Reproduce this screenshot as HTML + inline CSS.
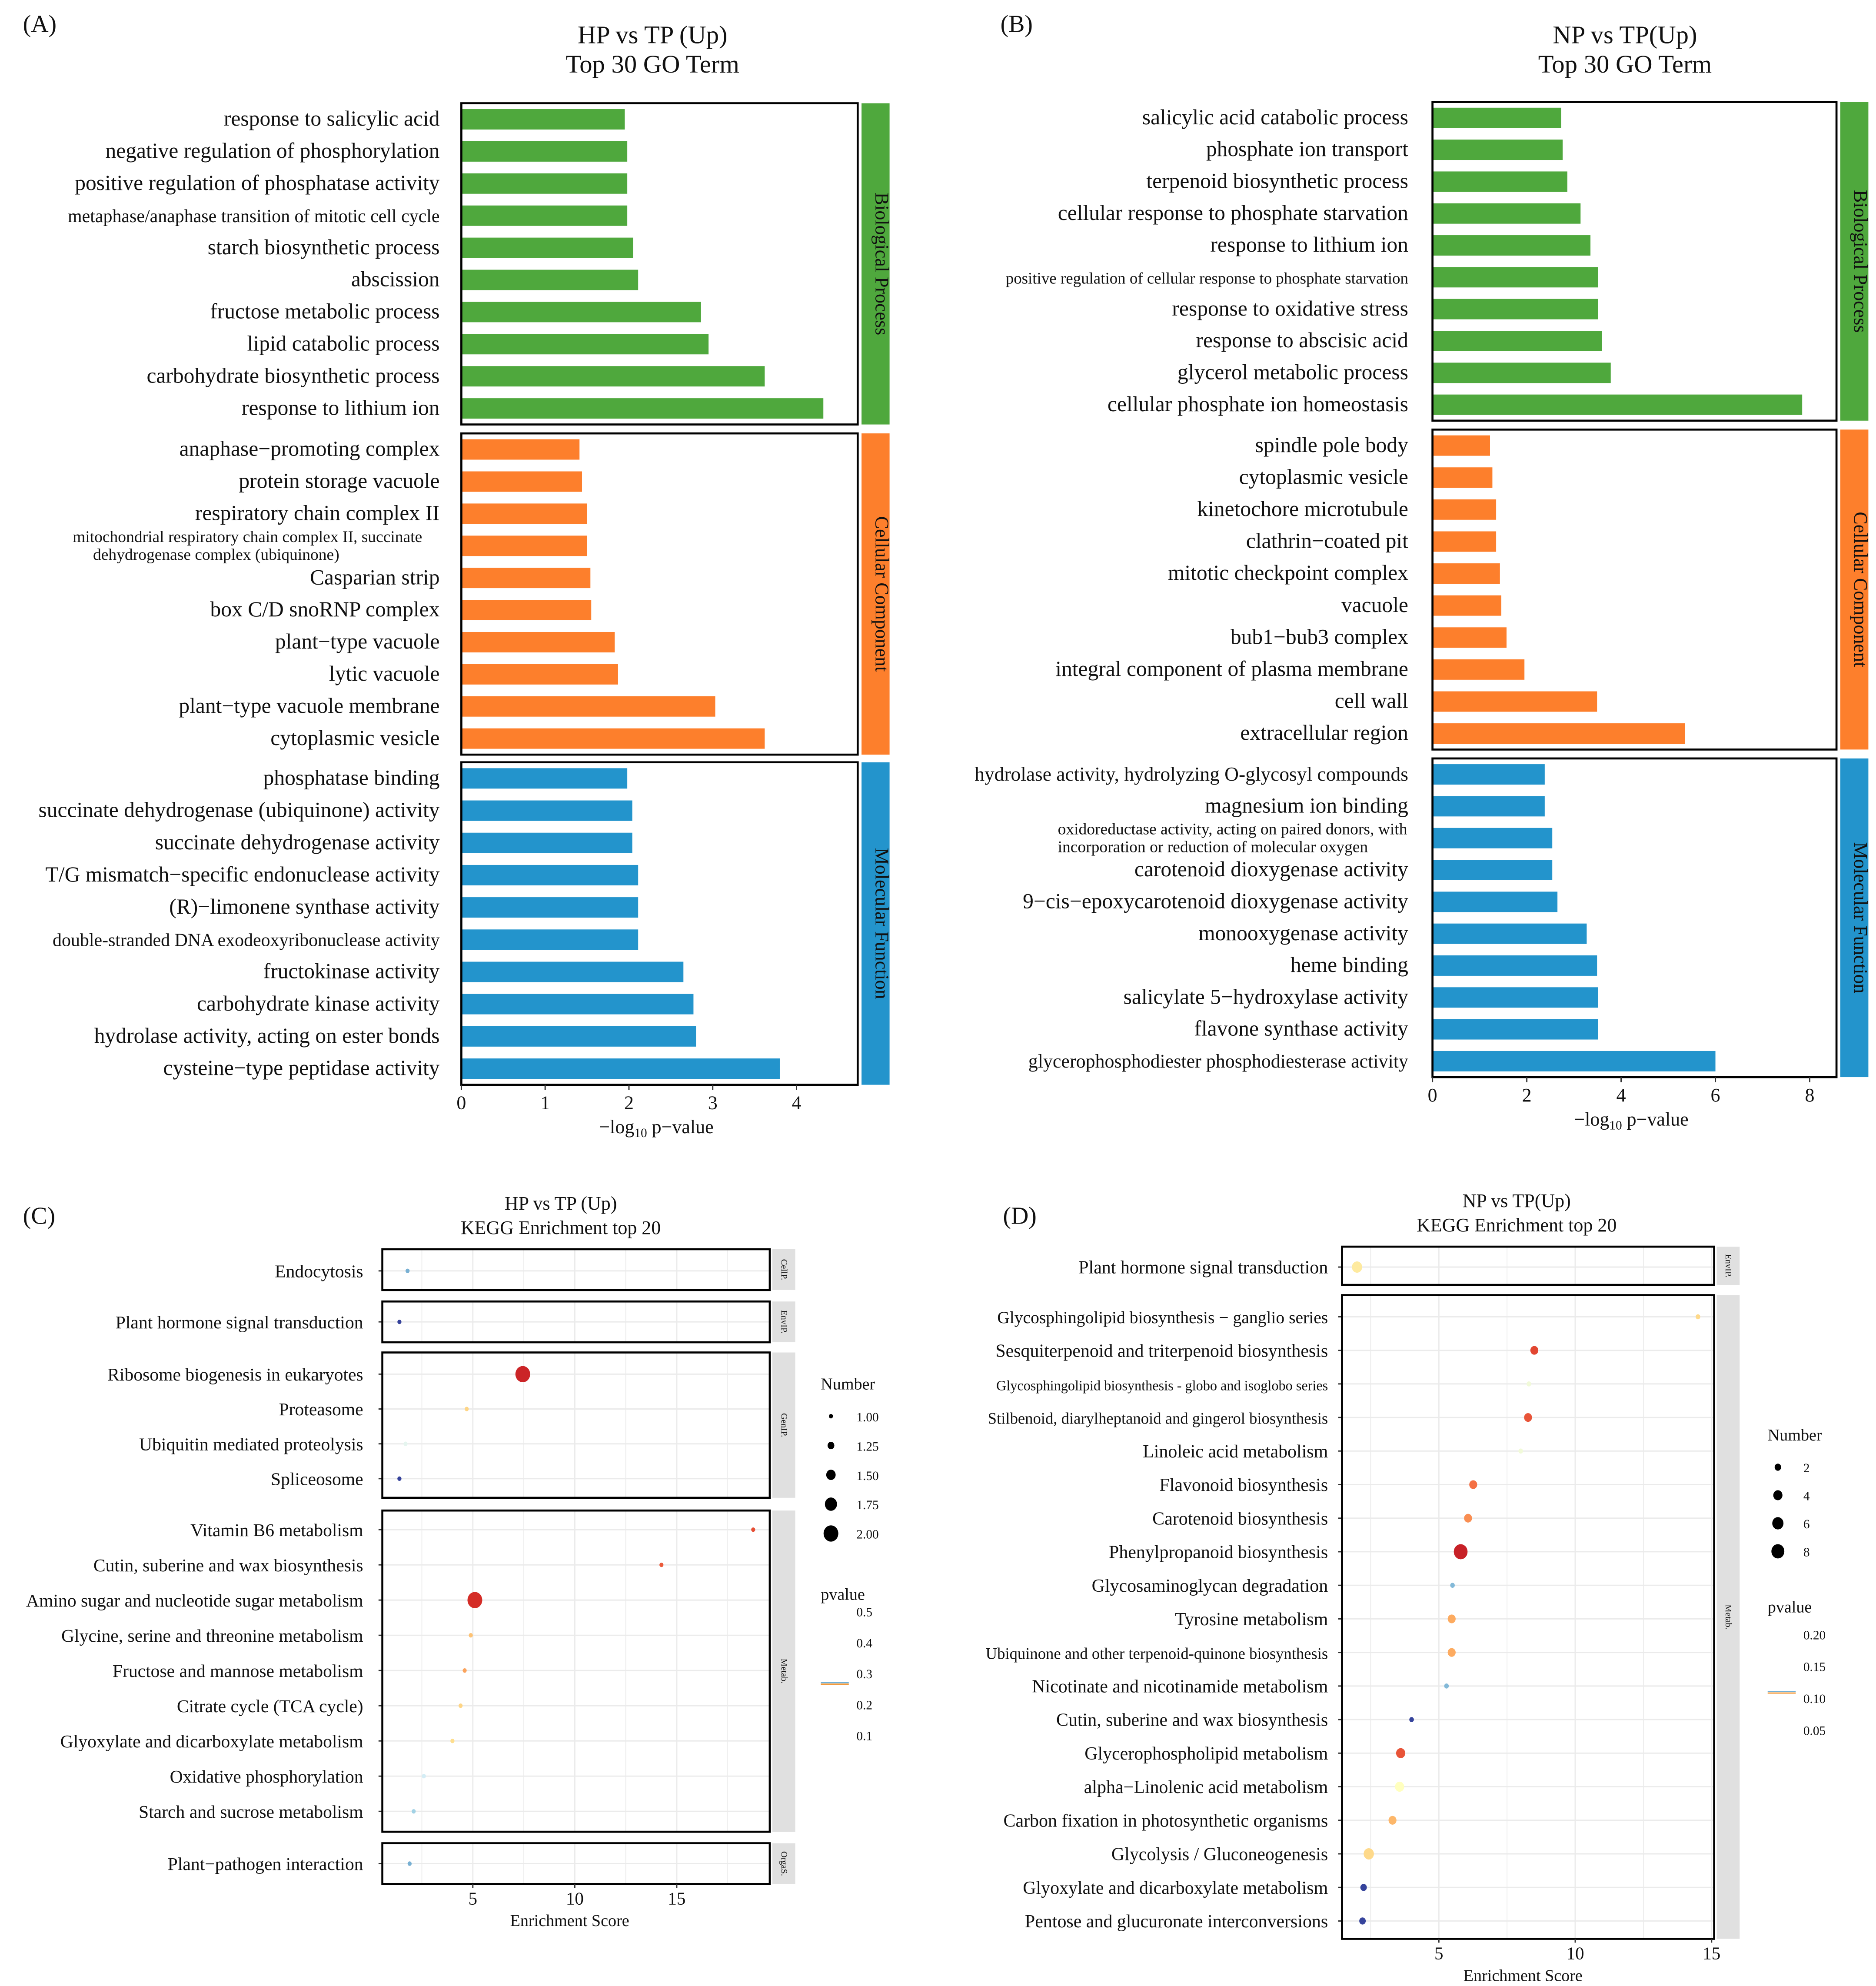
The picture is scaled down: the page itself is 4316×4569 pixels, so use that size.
<!DOCTYPE html>
<html><head><meta charset="utf-8"><style>
html,body{margin:0;padding:0;background:#fff}
svg{display:block}
text{font-family:"Liberation Serif",serif;fill:#111}
</style></head><body>
<svg id="fig" xmlns="http://www.w3.org/2000/svg" width="4316" height="4569" viewBox="0 0 1472 1558" preserveAspectRatio="none">
<rect width="1472" height="1558" fill="#fff"/>
</svg>
<script>
// ---- Panel A data ----
const aBP=["response to salicylic acid","negative regulation of phosphorylation","positive regulation of phosphatase activity","metaphase/anaphase transition of mitotic cell cycle","starch biosynthetic process","abscission","fructose metabolic process","lipid catabolic process","carbohydrate biosynthetic process","response to lithium ion"];
const aBPv=[1.95,1.98,1.98,1.98,2.05,2.11,2.86,2.95,3.62,4.32];
const aCC=["anaphase\u2212promoting complex","protein storage vacuole","respiratory chain complex II","mitochondrial respiratory chain complex II, succinate|dehydrogenase complex (ubiquinone)","Casparian strip","box C/D snoRNP complex","plant\u2212type vacuole","lytic vacuole","plant\u2212type vacuole membrane","cytoplasmic vesicle"];
const aCCv=[1.41,1.44,1.5,1.5,1.54,1.55,1.83,1.87,3.03,3.62];
const aMF=["phosphatase binding","succinate dehydrogenase  (ubiquinone) activity","succinate dehydrogenase activity","T/G mismatch\u2212specific endonuclease activity","(R)\u2212limonene synthase activity","double-stranded DNA exodeoxyribonuclease activity","fructokinase activity","carbohydrate kinase activity","hydrolase activity, acting on ester bonds","cysteine\u2212type peptidase activity"];
const aMFv=[1.98,2.04,2.04,2.11,2.11,2.11,2.65,2.77,2.8,3.8];
const aTicks=[0,1,2,3,4];
// ---- Panel B data ----
const bBP=["salicylic acid catabolic process","phosphate ion transport","terpenoid biosynthetic process","cellular response to phosphate starvation","response to lithium ion","positive regulation of cellular response to phosphate starvation","response to oxidative stress","response to abscisic acid","glycerol metabolic process","cellular phosphate ion homeostasis"];
const bBPv=[2.73,2.76,2.86,3.14,3.35,3.51,3.51,3.59,3.78,7.84];
const bCC=["spindle pole body","cytoplasmic vesicle","kinetochore microtubule","clathrin\u2212coated pit","mitotic checkpoint complex","vacuole","bub1\u2212bub3 complex","integral component of plasma membrane","cell wall","extracellular region"];
const bCCv=[1.22,1.27,1.35,1.35,1.43,1.46,1.57,1.95,3.49,5.35];
const bMF=["hydrolase activity, hydrolyzing O-glycosyl compounds","magnesium ion binding","oxidoreductase activity, acting on paired donors, with|incorporation or reduction of molecular oxygen","carotenoid dioxygenase activity","9\u2212cis\u2212epoxycarotenoid dioxygenase activity","monooxygenase activity","heme binding","salicylate 5\u2212hydroxylase activity","flavone synthase activity","glycerophosphodiester phosphodiesterase activity"];
const bMFv=[2.38,2.38,2.54,2.54,2.65,3.27,3.49,3.51,3.51,6.0];
const bTicks=[0,2,4,6,8];
// ---- Panel C data ----
const cGroups=["CellP.","EnvIP.","GenIP.","Metab.","OrgaS."];
const cTerms=[["Endocytosis"],["Plant hormone signal transduction"],["Ribosome biogenesis in eukaryotes","Proteasome","Ubiquitin mediated proteolysis","Spliceosome"],["Vitamin B6 metabolism","Cutin, suberine and wax biosynthesis","Amino sugar and nucleotide sugar metabolism","Glycine, serine and threonine metabolism","Fructose and mannose metabolism","Citrate cycle (TCA cycle)","Glyoxylate and dicarboxylate metabolism","Oxidative phosphorylation","Starch and sucrose metabolism"],["Plant\u2212pathogen interaction"]];
const cScore=[[1.8],[1.4],[7.45,4.7,1.7,1.4],[18.75,14.25,5.1,4.9,4.6,4.4,4.0,2.6,2.1],[1.9]];
const cNum=[[1],[1],[2,1,1,1],[1,1,2,1,1,1,1,1,1],[1]];
const cP=[[0.42],[0.52],[0.04,0.2,0.31,0.52],[0.08,0.09,0.05,0.18,0.15,0.2,0.21,0.33,0.38],[0.42]];
const cTicks=[5,10,15];
const cNumLegend=[1.00,1.25,1.50,1.75,2.00];
const cPLegend=[0.5,0.4,0.3,0.2,0.1];
// ---- Panel D data ----
const dGroups=["EnvIP.","Metab."];
const dTerms=[["Plant hormone signal transduction"],["Glycosphingolipid biosynthesis \u2212 ganglio series","Sesquiterpenoid and triterpenoid biosynthesis","Glycosphingolipid biosynthesis - globo and isoglobo series","Stilbenoid, diarylheptanoid and gingerol biosynthesis","Linoleic acid metabolism","Flavonoid biosynthesis","Carotenoid biosynthesis","Phenylpropanoid biosynthesis","Glycosaminoglycan degradation","Tyrosine metabolism","Ubiquinone and other terpenoid-quinone biosynthesis","Nicotinate and nicotinamide metabolism","Cutin, suberine and wax biosynthesis","Glycerophospholipid metabolism","alpha\u2212Linolenic acid metabolism","Carbon fixation in photosynthetic organisms","Glycolysis / Gluconeogenesis","Glyoxylate and dicarboxylate metabolism","Pentose and glucuronate interconversions"]];
const dScore=[[2.0],[14.5,8.5,8.3,8.27,8.0,6.26,6.07,5.8,5.5,5.47,5.47,5.28,4.0,3.6,3.56,3.3,2.43,2.24,2.2]];
const dNum=[[5],[1,3,1,3,1,3,3,9,1,3,3,1,1,4,4,3,5,2,2]];
const dP=[[0.095],[0.085,0.03,0.12,0.035,0.12,0.045,0.055,0.015,0.17,0.065,0.065,0.17,0.215,0.035,0.11,0.07,0.085,0.215,0.215]];
const dTicks=[5,10,15];
const dNumLegend=[2,4,6,8];
const dPLegend=[0.20,0.15,0.10,0.05];

const NS="http://www.w3.org/2000/svg";
const svg=document.getElementById('fig');
function mk(tag,attrs,parent){const e=document.createElementNS(NS,tag);for(const k in attrs)e.setAttribute(k,attrs[k]);(parent||svg).appendChild(e);return e;}
function txt(s,x,y,size,anchor,parent){const t=mk('text',{x:x,y:y,'font-size':size,'text-anchor':anchor||'start'},parent);t.textContent=s;return t;}

const stops=[[165,0,38],[215,48,39],[244,109,67],[253,174,97],[254,224,144],[255,255,191],[224,243,248],[171,217,233],[116,173,209],[69,117,180],[49,54,149]];
function cmap(t){t=Math.max(0,Math.min(1,t));const f=t*(stops.length-1);const i=Math.min(stops.length-2,Math.floor(f));const u=f-i;const a=stops[i],b=stops[i+1];return 'rgb('+a.map((v,k)=>Math.round(v+(b[k]-v)*u)).join(',')+')';}

function goPanel(cfg){
  const g=mk('g',{});
  
  
  const lab=txt(cfg.letter,cfg.letterX,25,19,'start',g);
  
  
  const t1=txt(cfg.title1,cfg.titleX,34,20,'middle',g);
  
  
  const t2=txt('Top 30 GO Term',cfg.titleX,57,20,'middle',g);
  
  
  const X=v=>cfg.x0+v*cfg.ppu;
  const colors=['#4fa83d','#fd7f2c','#2394cc'];
  const strips=['Biological Process','Cellular Component','Molecular Function'];
  cfg.groups.forEach((grp,gi)=>{
    const [top,bot]=cfg.boxes[gi];
    const step=(bot-top)/10;
    grp.terms.forEach((term,i)=>{
      const cy=top+step*(i+0.5);
      const r=mk('rect',{x:X(0),y:cy-8,width:X(grp.vals[i])-X(0),height:16,fill:colors[gi]},g);
      
      
      const parts=term.split('|');
      if(parts.length===2){
        const a=txt(parts[0],cfg.twoX[0],cy-3,12.8,'start',g);
        
        
        const b=txt(parts[1],cfg.twoX[1],cy+11,12.8,'start',g);
        
        
      } else {
        const fs=(cfg.small[term]||16.9);
        const l=txt(term,cfg.labelX,cy+5,fs,'end',g);
        
        
      }
    });
    const box=mk('rect',{x:X(0),y:top,width:cfg.boxR-X(0),height:bot-top,fill:'none',stroke:'#000','stroke-width':1.6},g);
    
    
    const s=mk('rect',{x:cfg.boxR+3,y:top,width:22,height:bot-top,fill:colors[gi]},g);
    
    
    const cx=cfg.boxR+14,cy=(top+bot)/2;
    const st=mk('text',{x:cx,y:cy,'font-size':15,'text-anchor':'middle',transform:'rotate(90 '+cx+' '+cy+')'},g);
    st.textContent=strips[gi];
    
    
  });
  const by=cfg.boxes[2][1];
  cfg.ticks.forEach(v=>{
    const tk=mk('line',{x1:X(v),x2:X(v),y1:by,y2:by+4,stroke:'#333','stroke-width':1},g);
    
    
    const tl=txt(String(v),X(v),by+19,15,'middle',g);
    
    
  });
  const xt=mk('text',{x:cfg.xTitleX,y:by+38,'font-size':15,'text-anchor':'middle'},g);
  xt.innerHTML='\u2212log<tspan font-size="10" dy="3">10</tspan><tspan dy="-3"> p\u2212value</tspan>';
  
  
}
goPanel({name:'panel-a',letter:'(A)',letterX:18,title1:'HP vs TP (Up)',titleX:512,x0:362,ppu:65.75,boxR:673,labelX:345,twoX:[57,73],xTitleX:515,
  boxes:[[81,333],[340,592],[598,851]],ticks:aTicks,
  groups:[{terms:aBP,vals:aBPv},{terms:aCC,vals:aCCv},{terms:aMF,vals:aMFv}],
  small:{"metaphase/anaphase transition of mitotic cell cycle":14.3,"double-stranded DNA exodeoxyribonuclease activity":14.3}});
goPanel({name:'panel-b',letter:'(B)',letterX:785,title1:'NP vs TP(Up)',titleX:1275,x0:1124,ppu:37,boxR:1441,labelX:1105,twoX:[830,830],xTitleX:1280,
  boxes:[[80,330],[337,588],[595,845]],ticks:bTicks,
  groups:[{terms:bBP,vals:bBPv},{terms:bCC,vals:bCCv},{terms:bMF,vals:bMFv}],
  small:{"positive regulation of cellular response to phosphate starvation":12.6,"glycerophosphodiester phosphodiesterase activity":15,"hydrolase activity, hydrolyzing O-glycosyl compounds":15.5}});

function keggPanel(cfg){
  const g=mk('g',{});
  
  
  const lab=txt(cfg.letter,cfg.letterX,960,19,'start',g);
  
  
  const t1=txt(cfg.title1,cfg.titleX,cfg.titleY,15,'middle',g);
  
  
  const t2=txt('KEGG Enrichment top 20',cfg.titleX,cfg.titleY+19,15,'middle',g);
  
  
  const X=v=>cfg.x0+v*cfg.ppu;
  const R=cfg.radius;
  cfg.groups.forEach((gname,gi)=>{
    const [top,bot]=cfg.boxes[gi];
    const terms=cfg.terms[gi];
    for(let v=2.5;X(v)<cfg.boxR;v+=2.5){
      const gl=mk('line',{x1:X(v),x2:X(v),y1:top,y2:bot,stroke:'#ebebeb','stroke-width':(v%5===0)?1:0.6},g);
      
      
    }
    const first=cfg.rowY[gi][0],last=cfg.rowY[gi][1];
    terms.forEach((term,i)=>{
      const cy=terms.length===1?first:first+(last-first)*i/(terms.length-1);
      const hl=mk('line',{x1:cfg.left,x2:cfg.boxR,y1:cy,y2:cy,stroke:'#ebebeb','stroke-width':1},g);
      
      
      const tk=mk('line',{x1:cfg.left-3,x2:cfg.left,y1:cy,y2:cy,stroke:'#333','stroke-width':1},g);
      
      
      const fs=cfg.small[term]||cfg.fs;
      const l=txt(term,cfg.labelX,cy+5,fs,'end',g);
      
      
    });
    terms.forEach((term,i)=>{
      const cy=terms.length===1?first:first+(last-first)*i/(terms.length-1);
      const c=mk('ellipse',{cx:X(cfg.score[gi][i]),cy:cy,rx:R(cfg.num[gi][i]),ry:R(cfg.num[gi][i])*1.1,fill:cmap((cfg.p[gi][i]-cfg.pmin)/(cfg.pmax-cfg.pmin))},g);
      
      
    });
    const box=mk('rect',{x:cfg.left,y:top,width:cfg.boxR-cfg.left,height:bot-top,fill:'none',stroke:'#000','stroke-width':1.6},g);
    
    
    const s=mk('rect',{x:cfg.boxR+2,y:top,width:18,height:bot-top,fill:'#e0e0e0'},g);
    
    
    const cx=cfg.boxR+11,cy=(top+bot)/2;
    const st=mk('text',{x:cx,y:cy+2,'font-size':7,'text-anchor':'middle',transform:'rotate(90 '+cx+' '+cy+')'},g);
    st.textContent=gname;
    
    
  });
  const by=cfg.boxes[cfg.boxes.length-1][1];
  cfg.ticks.forEach(v=>{
    const tk=mk('line',{x1:X(v),x2:X(v),y1:by,y2:by+3,stroke:'#333','stroke-width':1},g);
    
    
    const tl=txt(String(v),X(v),by+16,14,'middle',g);
    
    
  });
  const xt=txt('Enrichment Score',cfg.xTitleX,by+33,13,'middle',g);
  
  
  const L=cfg.legend;
  const lt=txt('Number',L.x,L.numY,13,'start',g);
  
  
  cfg.numLegend.forEach((n,i)=>{
    const yy=L.numY+25+i*L.numStep;
    const c=mk('ellipse',{cx:L.x+8,cy:yy-4,rx:R(n),ry:R(n)*1.1,fill:'#000'},g);
    
    
    const t=txt(cfg.numFmt(n),L.x+28,yy,10,'start',g);
    
    
  });
  const pt=txt('pvalue',L.x,L.pY,13,'start',g);
  
  
  cfg.pLegend.forEach((p,i)=>{
    const t=txt(String(p.toFixed(cfg.pDigits)),L.x+28,L.pY+L.pOff+i*L.pStep,10,'start',g);
    
    
  });
  const b1=mk('line',{x1:L.x,x2:L.x+22,y1:L.barY,y2:L.barY,stroke:'#6fb0d8','stroke-width':1},g);
  
  
  const b2=mk('line',{x1:L.x,x2:L.x+22,y1:L.barY+1.2,y2:L.barY+1.2,stroke:'#f39a3c','stroke-width':1},g);
  
  
}
keggPanel({name:'panel-c',letter:'(C)',letterX:18,title1:'HP vs  TP (Up)',titleX:440,titleY:949,left:300,boxR:604,x0:291,ppu:16,labelX:285,fs:14.2,
  boxes:[[980,1012],[1021,1053],[1061,1175],[1185,1437],[1446,1478]],
  rowY:[[997,997],[1037,1037],[1078,1160],[1200,1421],[1462,1462]],
  groups:cGroups,terms:cTerms,score:cScore,num:cNum,p:cP,pmin:0.0,pmax:0.53,ticks:cTicks,xTitleX:447,
  radius:n=>1.6+(n-1)*4.2,numLegend:cNumLegend,numFmt:n=>n.toFixed(2),pLegend:cPLegend,pDigits:1,
  legend:{x:644,numY:1090,numStep:23,pY:1255,pOff:13,pStep:24.3,barY:1320},small:{}});
keggPanel({name:'panel-d',letter:'(D)',letterX:787,title1:'NP vs TP(Up)',titleX:1190,titleY:947,left:1053,boxR:1345,x0:1022,ppu:21.4,labelX:1042,fs:14.3,
  boxes:[[978,1008],[1016,1521]],
  rowY:[[994,994],[1033,1507]],
  groups:dGroups,terms:dTerms,score:dScore,num:dNum,p:dP,pmin:0.0,pmax:0.22,ticks:dTicks,xTitleX:1195,
  radius:n=>Math.sqrt(n)*1.8,numLegend:dNumLegend,numFmt:n=>String(n),pLegend:dPLegend,pDigits:2,
  legend:{x:1387,numY:1130,numStep:22,pY:1265,pOff:21,pStep:25,barY:1327},
  small:{"Glycosphingolipid biosynthesis - globo and isoglobo series":11,"Ubiquinone and other terpenoid-quinone biosynthesis":12.5,"Glycosphingolipid biosynthesis \u2212 ganglio series":13.5,"Stilbenoid, diarylheptanoid and gingerol biosynthesis":12.5}});
</script>
</body></html>
